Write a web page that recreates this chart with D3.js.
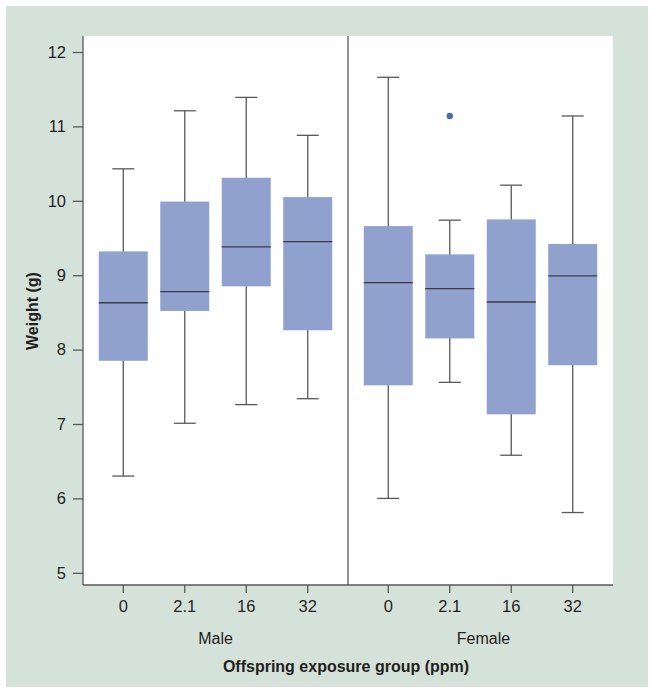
<!DOCTYPE html>
<html>
<head>
<meta charset="utf-8">
<script src="https://cdn.jsdelivr.net/npm/d3@7"></script>
<style>
html,body{margin:0;padding:0;background:#fff;}
svg{display:block;}
text{font-family:"Liberation Sans",Arial,Helvetica,sans-serif;fill:#231f20;}
</style>
</head>
<body>
<svg id="chart" width="654" height="694"></svg>
<script>
const panels = ["Male", "Female"];
const groups = ["0", "2.1", "16", "32"];
// [whiskerLow, q1, median, q3, whiskerHigh]
const maleStats = [
  [6.30, 7.85, 8.63, 9.32, 10.43],
  [7.01, 8.52, 8.78, 9.99, 11.21],
  [7.26, 8.85, 9.38, 10.31, 11.39],
  [7.34, 8.26, 9.45, 10.05, 10.88]
];
const femaleStats = [
  [6.00, 7.52, 8.90, 9.66, 11.66],
  [7.56, 8.15, 8.82, 9.28, 9.74],
  [6.58, 7.13, 8.64, 9.75, 10.21],
  [5.81, 7.79, 8.99, 9.42, 11.14]
];
const femaleOutliers = [{group: "2.1", value: 11.14}];
const yTicks = [5, 6, 7, 8, 9, 10, 11, 12];

(function () {
const svg = d3.select("#chart");
svg.append("rect").attr("x", 6).attr("y", 6).attr("width", 642).attr("height", 681).attr("fill", "#d5e2da");

const pLeft = 83, pRight = 613, pTop = 36, pBottom = 585, pMid = 348;
svg.append("rect").attr("x", pLeft).attr("y", pTop).attr("width", pRight - pLeft).attr("height", pBottom - pTop).attr("fill", "#fff");

const y = d3.scaleLinear().domain([5, 12]).range([572.8, 52]);
const xMale = d3.scaleBand().domain(groups).range([pLeft, pMid]).paddingOuter(0.155).paddingInner(0);
const xFemale = d3.scaleBand().domain(groups).range([pMid, pRight]).paddingOuter(0.155).paddingInner(0);

const lineCol = "#58595b";
const boxFill = "#8fa1cc";

function drawPanel(xs, stats, outliers) {
  const g = svg.append("g");
  const boxW = 49, capW = 22;
  groups.forEach((grp, i) => {
    const s = stats[i];
    const cx = xs(grp) + xs.bandwidth() / 2;
    g.append("line").attr("x1", cx).attr("x2", cx).attr("y1", y(s[0])).attr("y2", y(s[4]))
      .attr("stroke", lineCol).attr("stroke-width", 1.3);
    [s[0], s[4]].forEach(v => {
      g.append("line").attr("x1", cx - capW / 2).attr("x2", cx + capW / 2).attr("y1", y(v)).attr("y2", y(v))
        .attr("stroke", lineCol).attr("stroke-width", 1.3);
    });
    g.append("rect").attr("x", cx - boxW / 2).attr("width", boxW)
      .attr("y", y(s[3])).attr("height", y(s[1]) - y(s[3])).attr("fill", boxFill);
    g.append("line").attr("x1", cx - boxW / 2).attr("x2", cx + boxW / 2).attr("y1", y(s[2])).attr("y2", y(s[2]))
      .attr("stroke", "#3a3b48").attr("stroke-width", 1.3);
  });
  (outliers || []).forEach(o => {
    g.append("circle").attr("cx", xs(o.group) + xs.bandwidth() / 2).attr("cy", y(o.value)).attr("r", 3.2).attr("fill", "#4a6db3");
  });
  const ax = svg.append("g").attr("transform", `translate(0,${pBottom})`)
    .call(d3.axisBottom(xs).tickSize(8).tickPadding(7).tickSizeOuter(0));
  ax.select(".domain").remove();
  ax.selectAll(".tick line").attr("stroke", lineCol).attr("stroke-width", 1.3);
  ax.selectAll(".tick text").attr("font-size", 16.5).style("fill", "#231f20")
    .attr("font-family", "'Liberation Sans', Arial, sans-serif");
}
drawPanel(xMale, maleStats, []);
drawPanel(xFemale, femaleStats, femaleOutliers);

svg.append("line").attr("x1", pMid).attr("x2", pMid).attr("y1", pTop).attr("y2", pBottom).attr("stroke", lineCol).attr("stroke-width", 1.3);
svg.append("line").attr("x1", pLeft).attr("x2", pRight).attr("y1", pBottom).attr("y2", pBottom).attr("stroke", lineCol).attr("stroke-width", 1.3);

const yAx = svg.append("g").attr("transform", `translate(${pLeft},0)`)
  .call(d3.axisLeft(y).tickValues(yTicks).tickFormat(d3.format("d")).tickSize(10).tickPadding(7).tickSizeOuter(0));
yAx.select(".domain").attr("d", `M0,${pTop}V${pBottom}`).attr("stroke", lineCol).attr("stroke-width", 1.3);
yAx.selectAll(".tick line").attr("stroke", lineCol).attr("stroke-width", 1.3);
yAx.selectAll(".tick text").attr("font-size", 16.5).style("fill", "#231f20")
  .attr("font-family", "'Liberation Sans', Arial, sans-serif");

panels.forEach(p => {
  const cx = p === "Male" ? (pLeft + pMid) / 2 : (pMid + pRight) / 2 + 3;
  svg.append("text").attr("x", cx).attr("y", 644).attr("text-anchor", "middle").attr("font-size", 16).text(p);
});
svg.append("text").attr("x", 346).attr("y", 672).attr("text-anchor", "middle").attr("font-size", 16).attr("font-weight", "bold")
  .text("Offspring exposure group (ppm)");
svg.append("text").attr("transform", "translate(38,311) rotate(-90)").attr("text-anchor", "middle").attr("font-size", 16).attr("font-weight", "bold")
  .text("Weight (g)");
})();
</script>
</body>
</html>
